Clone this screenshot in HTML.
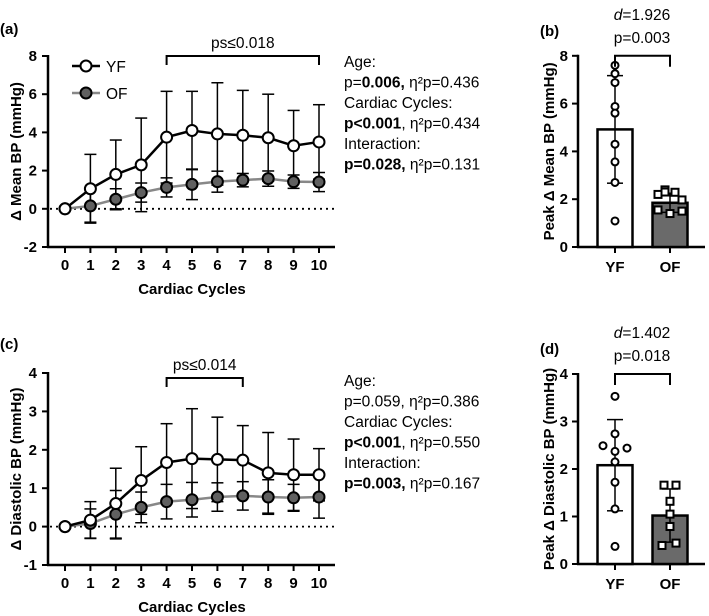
<!DOCTYPE html>
<html><head><meta charset="utf-8"><style>
body{margin:0;background:#fff}
svg{display:block;font-family:"Liberation Sans",Arial,sans-serif}
.tk{font-size:15px;font-weight:bold}
.st{font-size:15.5px}
</style></head><body>
<svg id="c" width="709" height="616"></svg>
<script>
const cycles=[0,1,2,3,4,5,6,7,8,9,10];
const aYF=[0,1.05,1.8,2.3,3.75,4.1,3.92,3.85,3.72,3.3,3.5];
const aYFsd=[0,1.8,1.8,2.45,2.4,2.05,2.68,2.35,2.28,1.85,1.95];
const aOF=[0,0.15,0.5,0.85,1.12,1.28,1.42,1.5,1.58,1.42,1.4];
const aOFsd=[0,0.85,0.55,0.5,0.5,0.8,0.55,0.35,0.4,0.35,0.5];
const cYF=[0,0.17,0.6,1.2,1.67,1.77,1.75,1.73,1.4,1.35,1.35];
const cYFsd=[0,0.48,0.92,0.88,1.01,1.3,1.1,0.9,1.05,0.93,0.68];
const cOF=[0,0.08,0.32,0.5,0.65,0.7,0.77,0.8,0.77,0.75,0.77];
const cOFsd=[0,0.38,0.62,0.4,0.45,0.45,0.37,0.37,0.45,0.35,0.55];
const bMeans=[4.92,1.85];const bSD=[2.25,0.4];
const bYFpts=[7.6,7.25,6.88,5.88,5.6,4.3,3.56,2.7,1.09];
const bOFpts=[2.39,2.29,2.2,1.97,1.55,1.5,1.4,2.3];
const dMeans=[2.08,1.02];const dSD=[0.96,0.56];
const dYFpts=[3.53,2.74,2.49,2.44,2.37,2.15,1.72,1.16,0.37];
const dOFpts=[1.66,1.66,1.32,1.05,0.79,0.39,0.44];
const aTicks=[-2,0,2,4,6,8],cTicks=[-1,0,1,2,3,4],bTicks=[0,2,4,6,8],dTicks=[0,1,2,3,4];

const S=document.getElementById('c');const NS='http://www.w3.org/2000/svg';
function el(t,a,txt,name){const e=document.createElementNS(NS,t);for(const k in a)e.setAttribute(k,a[k]);if(txt!=null)e.textContent=txt;


S.appendChild(e);return e;}
function line(x1,y1,x2,y2,w,c,n,extra){return el('line',Object.assign({x1,y1,x2,y2,stroke:c||'#000','stroke-width':w||2},extra||{}),null,n);}
function text(x,y,s,cls,anchor,n,extra){return el('text',Object.assign({x,y,class:cls,'text-anchor':anchor||'middle'},extra||{}),s,n);}

function linePanel(o){
 const X=v=>65+v*25.4, Y=v=>o.y0+(o.yMax-v)*o.ppu;
 const yBot=Y(o.ticks[0]);
 line(48,Y(o.ticks[o.ticks.length-1])-1,48,yBot+1,2.5,'#000','y-axis');
 line(47,yBot,335,yBot,2.5,'#000','x-axis');
 o.ticks.forEach(t=>{line(42,Y(t),48,Y(t),2,'#000','y-tick');text(37,Y(t)+5,t,'tk','end','y-tick-label');});
 cycles.forEach(c=>{line(X(c),yBot,X(c),yBot+6,2,'#000','x-tick');text(X(c),yBot+23,c,'tk','middle','x-tick-label');});
 line(50,Y(0),335,Y(0),1.8,'#000','zero-line',{'stroke-dasharray':'2,4'});
 text(192,yBot+47,'Cardiac Cycles','tk','middle','x-axis-title',{'font-size':'16.5'});
 text(0,0,o.ylab,'tk','middle','y-axis-title',{'font-size':'15.5',transform:`translate(21,${(Y(o.ticks[o.ticks.length-1])+yBot)/2}) rotate(-90)`});
 const series=[[o.of,o.ofsd,'#888','#606060','of'],[o.yf,o.yfsd,'#000','#fff','yf']];
 series.forEach(([m,sd,lc,fc,n])=>{
  cycles.forEach((c,i)=>{if(i>0){line(X(c),Y(m[i]-sd[i]),X(c),Y(m[i]+sd[i]),1.5,'#000',n+'-error-bar');
   line(X(c)-6,Y(m[i]+sd[i]),X(c)+6,Y(m[i]+sd[i]),1.5,'#000',n+'-error-cap');line(X(c)-6,Y(m[i]-sd[i]),X(c)+6,Y(m[i]-sd[i]),1.5,'#000',n+'-error-cap');}});
  el('polyline',{points:cycles.map((c,i)=>X(c)+','+Y(m[i])).join(' '),fill:'none',stroke:lc,'stroke-width':2.5},null,n+'-line');
 });
 series.forEach(([m,sd,lc,fc,n])=>cycles.forEach((c,i)=>el('circle',{cx:X(c),cy:Y(m[i]),r:5.5,fill:fc,stroke:'#000','stroke-width':2},null,n+'-point')));
 const bx1=X(o.br[0]),bx2=X(o.br[1]),by=o.brY;
 el('path',{d:`M${bx1},${by+9}V${by}H${bx2}V${by+9}`,fill:'none',stroke:'#000','stroke-width':2},null,'significance-bracket');
 text((bx1+bx2)/2,by-8,o.brT,'st','middle','significance-label',{'font-size':'16'});
 text(0,o.y0-22+o.labY,o.lab,'tk','start','panel-label',{'font-size':'16'});
}
linePanel({y0:56,yMax:8,ppu:19.1,ticks:aTicks,yf:aYF,yfsd:aYFsd,of:aOF,ofsd:aOFsd,ylab:'Δ Mean BP (mmHg)',br:[4,10],brY:56,brT:'ps≤0.018',lab:'(a)',labY:0});
linePanel({y0:373,yMax:4,ppu:38.4,ticks:cTicks,yf:cYF,yfsd:cYFsd,of:cOF,ofsd:cOFsd,ylab:'Δ Diastolic BP (mmHg)',br:[4,7],brY:378,brT:'ps≤0.014',lab:'(c)',labY:-2});

line(72,66,100,66,2.5,'#000','legend-yf-line');el('circle',{cx:86,cy:66,r:5.5,fill:'#fff',stroke:'#000','stroke-width':2},null,'legend-yf-marker');
text(106,72,'YF','st','start','legend-yf-label',{'font-size':'17'});
line(72,93,100,93,2.5,'#888','legend-of-line');el('circle',{cx:86,cy:93,r:5.5,fill:'#606060',stroke:'#000','stroke-width':2},null,'legend-of-marker');
text(106,99,'OF','st','start','legend-of-label',{'font-size':'17'});

function stats(y,lines){lines.forEach((l,i)=>{const t=el('text',{x:344,y:y+i*20.5,class:'st'},null,'stats-line');
 l.forEach(([s,b])=>{const sp=document.createElementNS(NS,'tspan');sp.textContent=s;if(b)sp.setAttribute('font-weight','bold');t.appendChild(sp);});});}
stats(67,[[['Age:']],[['p='],['0.006,',1],[' η²p=0.436']],[['Cardiac Cycles:']],[['p<0.001',1],[', η²p=0.434']],[['Interaction:']],[['p=0.028,',1],[' η²p=0.131']]]);
stats(386,[[['Age:']],[['p=0.059, η²p=0.386']],[['Cardiac Cycles:']],[['p<0.001',1],[', η²p=0.550']],[['Interaction:']],[['p=0.003,',1],[' η²p=0.167']]]);

function barPanel(o){
 const Y=v=>o.y0+v*-o.ppu, xs=[615,670];
 const top=Y(o.ticks[o.ticks.length-1]);
 line(578,top-1,578,o.y0+1,2.5,'#000','y-axis');line(577,o.y0,705,o.y0,2.5,'#000','x-axis');
 o.ticks.forEach(t=>{line(572,Y(t),578,Y(t),2,'#000','y-tick');text(568,Y(t)+5,t,'tk','end','y-tick-label');});
 ['YF','OF'].forEach((g,i)=>{line(xs[i],o.y0,xs[i],o.y0+6,2,'#000','x-tick');text(xs[i],o.y0+25,g,'tk','middle','x-tick-label',{'font-size':'15.5'});});
 o.means.forEach((m,i)=>el('rect',{x:xs[i]-17.5,y:Y(m),width:35,height:o.y0-Y(m),fill:i?'#6a6a6a':'#fff',stroke:'#000','stroke-width':2.5},null,'bar-'+(i?'of':'yf')));
 o.means.forEach((m,i)=>{line(xs[i],Y(m-o.sd[i]),xs[i],Y(m+o.sd[i]),1.5,'#000','error-bar');
  line(xs[i]-8,Y(m+o.sd[i]),xs[i]+8,Y(m+o.sd[i]),1.5,'#000','error-cap');line(xs[i]-8,Y(m-o.sd[i]),xs[i]+8,Y(m-o.sd[i]),1.5,'#000','error-cap');});
 o.yfp.forEach((v,i)=>el('circle',{cx:xs[0]+(o.yfOff[i]||0),cy:Y(v),r:3.5,fill:'#fff',stroke:'#000','stroke-width':2},null,'yf-data-point'));
 o.ofp.forEach((v,i)=>el('rect',{x:xs[1]+(o.ofOff[i]||0)-3.5,y:Y(v)-3.5,width:7,height:7,fill:'#fff',stroke:'#000','stroke-width':2},null,'of-data-point'));
 el('path',{d:`M${xs[0]},${top+11}V${top}H${xs[1]}V${top+11}`,fill:'none',stroke:'#000','stroke-width':2},null,'significance-bracket');
 text(642,top-13,o.p,'st','middle','p-value-label',{'font-size':'16'});
 const d=text(642,top-36,null,'st','middle','effect-size-label',{'font-size':'16'});
 const i1=document.createElementNS(NS,'tspan');i1.setAttribute('font-style','italic');i1.textContent='d';d.appendChild(i1);d.appendChild(document.createTextNode('='+o.d));
 text(540,top-20,o.lab,'tk','start','panel-label',{'font-size':'16'});
 text(0,0,o.ylab,'tk','middle','y-axis-title',{'font-size':'14.5',transform:`translate(554,${(top+o.y0)/2}) rotate(-90)`});
}
barPanel({y0:247,ppu:23.9,ticks:bTicks,means:bMeans,sd:bSD,yfp:bYFpts,ofp:bOFpts,yfOff:[0,0,0,0,0,0,0,0,0],ofOff:[-5,5,-12,12,-12,12,0,-5],p:'p=0.003',d:'1.926',lab:'(b)',ylab:'Peak Δ Mean BP (mmHg)'});
barPanel({y0:564,ppu:47.5,ticks:dTicks,means:dMeans,sd:dSD,yfp:dYFpts,ofp:dOFpts,yfOff:[0,0,-12,12,0,0,0,0,0],ofOff:[-6,6,0,0,0,-8,6],p:'p=0.018',d:'1.402',lab:'(d)',ylab:'Peak Δ Diastolic BP (mmHg)'});
</script>
</body></html>
